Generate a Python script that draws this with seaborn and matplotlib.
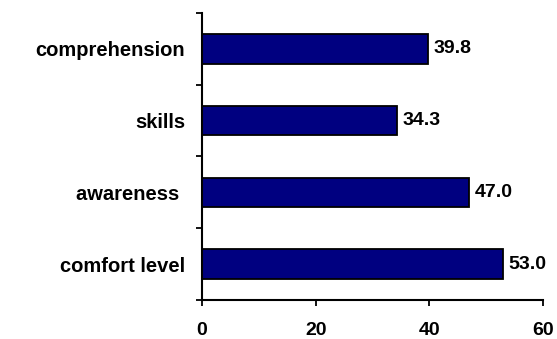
import matplotlib
matplotlib.use("Agg")
import matplotlib.pyplot as plt
import seaborn as sns
import pandas as pd
from matplotlib.ticker import FixedLocator

# data
categories = ["comprehension", "skills", "awareness ", "comfort level"]
values = [39.8, 34.3, 47.0, 53.0]
xticks = [0, 20, 40, 60]

df = pd.DataFrame({"category": categories, "value": values})

sns.set_style("white")
plt.rcParams["font.family"] = ["Liberation Sans", "DejaVu Sans"]
plt.rcParams["font.weight"] = "bold"
plt.rcParams["text.color"] = "black"
plt.rcParams["xtick.color"] = "black"
plt.rcParams["ytick.color"] = "black"

fig = plt.figure(figsize=(5.57, 3.39), dpi=100)
ax = fig.add_axes([0.3627, 0.115, 0.975 - 0.3627, 0.9617 - 0.115])

sns.barplot(data=df, x="value", y="category", color="#000080",
            edgecolor="black", linewidth=1.3, width=0.41, saturation=1, ax=ax)

ax.bar_label(ax.containers[0], fmt="%.1f", padding=4, color="black",
             fontsize=14, fontweight="bold")

ax.set_xlim(0, 60)
ax.set_ylim(3.5, -0.5)
ax.set_xticks(xticks)
ax.set_xticklabels([str(t) for t in xticks], fontsize=14, fontweight="bold")
ax.set_xlabel("")
ax.set_ylabel("")

# category labels without tick marks, tick marks between categories
ax.tick_params(axis="y", which="major", length=0, pad=12, labelsize=14.5)
ax.yaxis.set_minor_locator(FixedLocator([-0.5, 0.5, 1.5, 2.5, 3.5]))
ax.tick_params(axis="y", which="minor", length=4.5, width=1.3, color="black",
               direction="out", left=True)
ax.tick_params(axis="x", length=4, width=1.3, color="black", direction="out",
               bottom=True, pad=12)
for lab in ax.get_yticklabels():
    lab.set_fontweight("bold")

sns.despine(ax=ax)
for s in ["left", "bottom"]:
    ax.spines[s].set_color("black")
    ax.spines[s].set_linewidth(1.5)

fig.savefig("out.png", dpi=100)
